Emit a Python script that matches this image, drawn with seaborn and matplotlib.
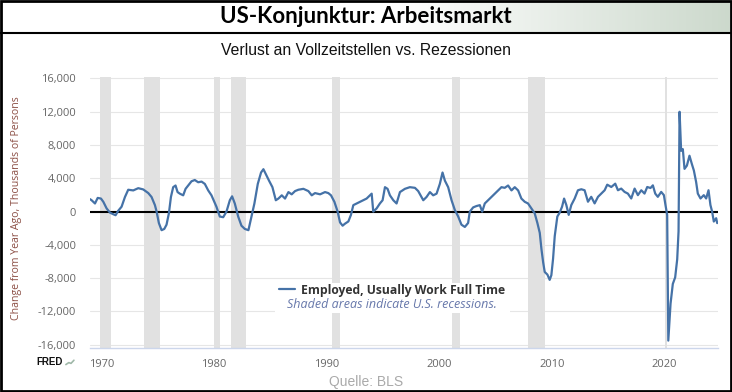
import numpy as np
import pandas as pd
import matplotlib.pyplot as plt
import seaborn as sns
from matplotlib.patches import Rectangle
from matplotlib.lines import Line2D
from matplotlib.ticker import FuncFormatter

# Year-over-year change, employed usually working full time (thousands)
years = [
    1969.00, 1969.14, 1969.44, 1969.68, 1969.97, 1970.18, 1970.47, 1970.77, 1971.06, 1971.27,
    1971.51, 1971.80, 1972.10, 1972.39, 1972.84, 1973.28, 1973.72, 1974.17, 1974.46, 1974.76,
    1974.91, 1975.11, 1975.35, 1975.59, 1975.79, 1976.00, 1976.18, 1976.38, 1976.59, 1976.77,
    1976.97, 1977.27, 1977.48, 1977.71, 1978.01, 1978.30, 1978.60, 1978.90, 1979.19, 1979.49,
    1979.78, 1980.22, 1980.52, 1980.82, 1981.11, 1981.41, 1981.61, 1981.85, 1982.15, 1982.44,
    1982.74, 1983.06, 1983.36, 1983.59, 1983.89, 1984.18, 1984.39, 1984.60, 1984.89, 1985.19,
    1985.49, 1985.72, 1986.02, 1986.31, 1986.61, 1986.90, 1987.20, 1987.49, 1987.94, 1988.38,
    1988.68, 1988.97, 1989.42, 1989.86, 1990.15, 1990.39, 1990.69, 1990.98, 1991.19, 1991.42,
    1991.63, 1991.93, 1992.16, 1992.37, 1992.67, 1992.96, 1993.26, 1993.55, 1993.85, 1994.00,
    1994.14, 1994.44, 1994.73, 1994.97, 1995.18, 1995.41, 1995.62, 1995.92, 1996.21, 1996.51,
    1996.95, 1997.39, 1997.84, 1998.13, 1998.58, 1998.87, 1999.17, 1999.46, 1999.76, 2000.05,
    2000.29, 2000.50, 2000.79, 2001.09, 2001.38, 2001.68, 2001.97, 2002.27, 2002.56, 2002.71,
    2003.01, 2003.30, 2003.60, 2003.81, 2004.04, 2004.34, 2004.63, 2004.93, 2005.22, 2005.52,
    2005.81, 2006.11, 2006.41, 2006.70, 2007.00, 2007.29, 2007.59, 2007.88, 2008.18, 2008.47,
    2008.71, 2008.92, 2009.07, 2009.22, 2009.36, 2009.60, 2009.80, 2009.95, 2010.10, 2010.25,
    2010.48, 2010.69, 2010.90, 2011.08, 2011.28, 2011.49, 2011.72, 2012.02, 2012.31, 2012.61,
    2012.90, 2013.20, 2013.49, 2013.79, 2014.09, 2014.38, 2014.68, 2014.91, 2015.27, 2015.62,
    2015.86, 2016.15, 2016.45, 2016.74, 2017.04, 2017.34, 2017.63, 2017.93, 2018.22, 2018.46,
    2018.75, 2018.96, 2019.17, 2019.40, 2019.70, 2019.94, 2020.08, 2020.23, 2020.33, 2020.53,
    2020.73, 2020.94, 2021.12, 2021.24, 2021.33, 2021.47, 2021.62, 2021.77, 2021.98, 2022.21,
    2022.42, 2022.60, 2022.80, 2022.95, 2023.19, 2023.48, 2023.69, 2023.90, 2024.07, 2024.22,
    2024.37, 2024.58, 2024.67,
]
change = [
    1500, 1370, 980, 1650, 1570, 1180, 390, -120, -310, -430,
    120, 590, 1760, 2630, 2550, 2820, 2670, 2230, 1760, 780,
    0, -1370, -2230, -2080, -1570, -200, 1760, 2940, 3140, 2350,
    2160, 1960, 2740, 3140, 3650, 3800, 3530, 3610, 3330, 2550,
    1960, 590, -590, -670, 0, 1370, 1840, 980, -590, -1690,
    -2080, -2230, -390, 980, 3330, 4700, 5100, 4510, 3720, 2940,
    1370, 1570, 1960, 1570, 2350, 2080, 2470, 2630, 2740, 2470,
    1960, 2230, 2080, 2350, 2230, 1960, 1180, 0, -1290, -1690,
    -1450, -1180, -390, 780, 980, 1180, 1370, 1570, 1960, 2160,
    0, 390, 980, 1370, 2940, 2740, 1960, 1370, 980, 2350,
    2740, 2940, 2860, 2470, 1370, 1760, 2350, 1960, 2160, 3330,
    4700, 3720, 2940, 1370, 200, -590, -1570, -1840, -1370, 0,
    510, 670, 780, 0, 980, 1370, 1760, 2160, 2550, 2940,
    2860, 3140, 2550, 2940, 2550, 1570, 1180, 980, 390, -200,
    -1370, -2550, -4510, -6080, -7250, -7570, -8200, -7640, -5680, -2940,
    -590, -120, 590, 1570, 790, -390, 790, 1580, 2570, 2690,
    2570, 1190, 1780, 990, 1780, 2170, 2570, 3240, 2960, 3360,
    2570, 2770, 2370, 2170, 1580, 2770, 1980, 2570, 2170, 2960,
    2840, 3160, 2170, 1780, 2370, 1980, 790, -400, -15500, -11060,
    -8690, -7900, -5730, -2370, 12000, 7310, 7510, 5140, 5530, 6720,
    5730, 4940, 3560, 2170, 1580, 1980, 1580, 2570, 790, 0,
    -1190, -790, -1380,
]

# US recessions (NBER), decimal years
rec_start = [1969.92, 1973.83, 1980.00, 1981.50, 1990.50, 2001.17, 2007.92, 2020.08]
rec_end = [1970.83, 1975.17, 1980.50, 1982.83, 1991.17, 2001.83, 2009.42, 2020.25]

y_ticks = [-16000, -12000, -8000, -4000, 0, 4000, 8000, 12000, 16000]
x_ticks = [1970, 1980, 1990, 2000, 2010, 2020]

sns.set_style("white")
plt.rcParams["font.family"] = ["Open Sans", "DejaVu Sans"]

df = pd.DataFrame({"year": years, "change": change})

fig = plt.figure(figsize=(7.32, 3.92), dpi=100)
ax = fig.add_axes([0.123, 0.112, 0.858, 0.692])

for s, e in zip(rec_start, rec_end):
    ax.axvspan(s, e, color="#e1e1e1", lw=0, zorder=0.8)

ax.grid(axis="y", color="#e6e6e6", lw=0.8, zorder=0.5)
ax.set_axisbelow(True)

# white box behind the legend
ax.add_patch(Rectangle((0.295, 0.129), 0.374, 0.111, transform=ax.transAxes,
                       facecolor="white", edgecolor="none", zorder=1.5))

ax.axhline(0, color="black", lw=1.5, zorder=2)
sns.lineplot(data=df, x="year", y="change", ax=ax, color="#4572a7", lw=1.6,
             label="Employed, Usually Work Full Time", zorder=3)

ax.set_xlim(1969.0, 2024.75)
ax.set_ylim(-16400, 16200)
ax.set_xticks(x_ticks)
ax.set_yticks(y_ticks)
ax.yaxis.set_major_formatter(FuncFormatter(lambda v, _: f"{v:,.0f}"))
ax.tick_params(axis="y", length=0, labelsize=8, labelcolor="#666666", pad=10)
ax.tick_params(axis="x", length=5, color="#ccd6eb", labelsize=8,
               labelcolor="#666666", direction="out", pad=3)
ax.set_xlabel("")
ax.set_ylabel("")
for side in ["top", "right", "left"]:
    ax.spines[side].set_visible(False)
ax.spines["bottom"].set_color("#ccd6eb")
ax.spines["bottom"].set_linewidth(1)

leg = ax.legend(loc="center", bbox_to_anchor=(0.481, 0.214), frameon=False,
                handlelength=1.3, handletextpad=0.5,
                prop={"weight": "bold", "size": 8.7})
for t in leg.get_texts():
    t.set_color("#333333")
ax.text(0.481, 0.160, "Shaded areas indicate U.S. recessions.", transform=ax.transAxes,
        ha="center", va="center", fontsize=9, style="italic", color="#6677aa", zorder=4)

# title bar with gradient
bar = fig.add_axes([0, 0.916, 1, 0.084])
t = np.linspace(0, 1, 400)
w = np.clip((t - 0.55) / 0.45, 0, 1)
end = np.array([0.80, 0.85, 0.80])
grad = (1 - w)[:, None] * np.ones(3) + w[:, None] * end
bar.imshow(grad[None, :, :], aspect="auto", extent=[0, 1, 0, 1])
bar.set_axis_off()

fig.add_artist(Line2D([0, 1], [0.916, 0.916], transform=fig.transFigure, color="black", lw=1.5))
fig.add_artist(Rectangle((0.001, 0.002), 0.997, 0.996, transform=fig.transFigure,
                         fill=False, edgecolor="black", lw=2))

fig.text(0.5, 0.957, "US-Konjunktur: Arbeitsmarkt", ha="center", va="center",
         fontsize=16, fontweight="bold", family=["Lato", "DejaVu Sans"], color="black")
fig.text(0.5, 0.872, "Verlust an Vollzeitstellen vs. Rezessionen", ha="center", va="center",
         fontsize=11.3, family=["Liberation Sans", "DejaVu Sans"], color="#111111")
fig.text(0.023, 0.469, "Change from Year Ago, Thousands of Persons", rotation=90,
         ha="center", va="center", fontsize=7.6, color="#8c4f45")
fig.text(0.05, 0.077, "FRED", ha="left", va="center", fontsize=7, fontweight="heavy",
         family=["Liberation Sans", "DejaVu Sans"], color="#111111")
fig.add_artist(Line2D([0.090, 0.094, 0.097, 0.101], [0.070, 0.075, 0.073, 0.081],
                      transform=fig.transFigure, color="#9fb8a8", lw=1.2))
fig.text(0.5, 0.026, "Quelle: BLS", ha="center", va="center", fontsize=10,
         family=["Liberation Sans", "DejaVu Sans"], color="#aaaaaa")

fig.savefig("out.png", dpi=100)
